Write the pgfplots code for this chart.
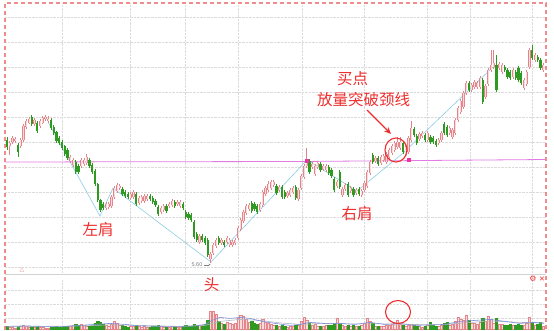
\documentclass[border=0pt]{standalone}
\usepackage{pgfplots}
\pgfplotsset{compat=1.18}
\usepackage{pgfplotstable}
\usetikzlibrary{arrows.meta}
\usepackage{fontspec}
\setmainfont{Liberation Sans}
\newfontfamily\cjk{Noto Sans CJK SC}
\newfontfamily\sym{DejaVu Sans}

\definecolor{upedge}{HTML}{E3858A}
\definecolor{upfill}{HTML}{FADADA}
\definecolor{down}{HTML}{2E9A22}
\definecolor{neck}{HTML}{E27BE2}
\definecolor{trend}{HTML}{8CCDE4}
\definecolor{note}{HTML}{EE2E2E}
\definecolor{frame}{HTML}{F08C8C}
\definecolor{ma1}{HTML}{7F8FD8}
\definecolor{ma2}{HTML}{B0B4C0}

% daily bars: index, open, high, low, close, volume
\pgfplotstableread{
i o h l c v
0 6.83 6.86 6.73 6.76 3
1 6.77 6.82 6.68 6.80 2
2 6.81 6.87 6.79 6.85 2
3 6.82 6.86 6.80 6.84 1
4 6.78 6.80 6.66 6.71 3
5 6.77 6.85 6.75 6.83 3
6 6.83 6.99 6.81 6.97 4
7 6.96 7.04 6.94 7.02 3
8 7.00 7.06 6.99 7.04 2
9 7.06 7.08 6.97 6.99 3
10 6.99 7.05 6.97 7.03 2
11 7.00 7.02 6.90 6.92 3
12 6.97 7.04 6.95 7.02 2
13 7.00 7.07 6.99 7.05 2
14 7.04 7.08 7.02 7.06 1
15 7.02 7.07 7.00 7.04 1
16 7.03 7.05 6.93 6.95 2
17 6.96 6.98 6.88 6.90 2
18 6.91 6.92 6.80 6.82 3
19 6.85 6.87 6.78 6.80 2
20 6.81 6.83 6.73 6.75 2
21 6.77 6.78 6.67 6.69 3
22 6.73 6.75 6.63 6.65 3
23 6.62 6.68 6.60 6.66 3
24 6.58 6.65 6.56 6.63 4
25 6.61 6.63 6.49 6.51 5
26 6.57 6.59 6.49 6.51 4
27 6.57 6.65 6.55 6.63 5
28 6.59 6.65 6.57 6.63 4
29 6.60 6.69 6.58 6.66 3
30 6.63 6.65 6.55 6.57 3
31 6.58 6.60 6.49 6.51 4
32 6.52 6.54 6.37 6.39 6
33 6.39 6.40 6.21 6.23 8
34 6.23 6.24 6.11 6.13 7
35 6.19 6.21 6.13 6.15 5
36 6.15 6.21 6.13 6.19 4
37 6.16 6.21 6.14 6.19 3
38 6.17 6.28 6.15 6.26 5
39 6.26 6.37 6.24 6.35 8
40 6.32 6.40 6.30 6.38 6
41 6.35 6.39 6.33 6.37 4
42 6.34 6.36 6.27 6.29 4
43 6.31 6.33 6.25 6.27 3
44 6.29 6.31 6.24 6.26 2
45 6.25 6.31 6.23 6.29 3
46 6.26 6.33 6.24 6.31 3
47 6.29 6.31 6.17 6.19 4
48 6.20 6.27 6.18 6.25 3
49 6.22 6.28 6.20 6.26 2
50 6.22 6.29 6.20 6.27 3
51 6.24 6.29 6.22 6.27 2
52 6.27 6.29 6.22 6.24 2
53 6.25 6.27 6.19 6.21 3
54 6.22 6.24 6.16 6.18 3
55 6.16 6.18 6.07 6.09 4
56 6.11 6.17 6.09 6.15 3
57 6.13 6.19 6.11 6.17 2
58 6.17 6.19 6.10 6.12 2
59 6.17 6.21 6.15 6.19 2
60 6.18 6.24 6.16 6.22 3
61 6.21 6.23 6.15 6.17 2
62 6.19 6.23 6.17 6.21 2
63 6.17 6.23 6.15 6.21 2
64 6.19 6.21 6.13 6.15 3
65 6.11 6.13 6.04 6.06 4
66 6.09 6.11 6.03 6.05 3
67 6.08 6.10 6.01 6.03 3
68 6.01 6.03 5.84 5.86 5
69 5.89 5.91 5.81 5.83 4
70 5.81 5.89 5.79 5.87 4
71 5.87 5.89 5.81 5.83 3
72 5.85 5.87 5.78 5.80 5
73 5.83 5.85 5.66 5.68 9
74 5.64 5.71 5.60 5.69 18
75 5.70 5.80 5.68 5.78 18
76 5.77 5.85 5.75 5.83 15
77 5.85 5.87 5.78 5.80 8
78 5.80 5.85 5.78 5.83 6
79 5.81 5.83 5.76 5.78 5
80 5.81 5.87 5.79 5.85 7
81 5.78 5.85 5.76 5.83 6
82 5.78 5.83 5.76 5.81 5
83 5.80 5.85 5.78 5.83 6
84 5.85 5.97 5.83 5.95 11
85 5.94 6.05 5.92 6.03 14
86 6.02 6.13 6.00 6.11 13
87 6.10 6.19 6.08 6.17 10
88 6.14 6.20 6.12 6.18 7
89 6.20 6.22 6.10 6.12 8
90 6.19 6.21 6.12 6.14 6
91 6.17 6.19 6.09 6.11 5
92 6.13 6.21 6.11 6.19 6
93 6.18 6.33 6.16 6.31 10
94 6.29 6.37 6.27 6.35 7
95 6.33 6.42 6.31 6.39 6
96 6.35 6.43 6.33 6.41 5
97 6.38 6.43 6.36 6.41 4
98 6.37 6.39 6.28 6.30 4
99 6.33 6.38 6.31 6.36 3
100 6.36 6.38 6.24 6.26 4
101 6.31 6.33 6.24 6.26 3
102 6.27 6.32 6.25 6.30 2
103 6.28 6.35 6.26 6.33 3
104 6.31 6.37 6.29 6.35 3
105 6.36 6.38 6.23 6.25 4
106 6.24 6.35 6.22 6.33 4
107 6.35 6.49 6.33 6.47 8
108 6.46 6.59 6.44 6.57 12
109 6.57 6.75 6.55 6.63 9
110 6.62 6.64 6.49 6.51 6
111 6.56 6.61 6.54 6.59 4
112 6.49 6.59 6.47 6.57 5
113 6.56 6.62 6.54 6.60 3
114 6.59 6.61 6.51 6.53 3
115 6.54 6.59 6.52 6.57 3
116 6.53 6.59 6.51 6.57 4
117 6.56 6.58 6.48 6.50 4
118 6.53 6.55 6.45 6.47 4
119 6.44 6.46 6.31 6.33 6
120 6.37 6.43 6.35 6.41 11
121 6.51 6.53 6.34 6.36 6
122 6.28 6.36 6.26 6.34 4
123 6.34 6.40 6.32 6.38 3
124 6.39 6.41 6.26 6.28 4
125 6.32 6.37 6.30 6.35 3
126 6.34 6.36 6.26 6.28 4
127 6.30 6.35 6.28 6.33 3
128 6.34 6.36 6.27 6.29 3
129 6.28 6.34 6.26 6.32 4
130 6.33 6.42 6.31 6.40 6
131 6.37 6.53 6.35 6.51 11
132 6.50 6.63 6.48 6.61 8
133 6.68 6.70 6.59 6.61 6
134 6.62 6.67 6.60 6.65 3
135 6.65 6.67 6.57 6.59 3
136 6.60 6.68 6.58 6.66 3
137 6.63 6.69 6.61 6.67 3
138 6.61 6.71 6.59 6.69 4
139 6.66 6.75 6.64 6.73 4
140 6.70 6.79 6.68 6.77 5
141 6.73 6.82 6.71 6.80 6
142 6.76 6.86 6.74 6.81 9
143 6.75 6.86 6.73 6.81 5
144 6.80 6.82 6.69 6.71 4
145 6.69 6.78 6.67 6.76 3
146 6.71 6.87 6.69 6.85 4
147 6.83 7.02 6.81 6.95 5
148 6.94 6.96 6.86 6.88 4
149 6.87 6.89 6.78 6.80 3
150 6.84 6.91 6.82 6.89 3
151 6.87 6.92 6.85 6.90 2
152 6.88 6.90 6.81 6.83 3
153 6.83 6.92 6.81 6.90 4
154 6.86 6.88 6.79 6.81 7
155 6.85 6.87 6.79 6.81 4
156 6.82 6.84 6.76 6.78 3
157 6.80 6.85 6.78 6.83 3
158 6.83 6.92 6.81 6.90 4
159 6.99 7.01 6.88 6.90 6
160 6.96 6.98 6.86 6.88 7
161 6.90 6.97 6.88 6.95 4
162 6.86 6.95 6.84 6.93 5
163 6.90 7.05 6.88 7.03 8
164 7.03 7.17 7.01 7.15 12
165 7.11 7.24 7.09 7.22 10
166 7.16 7.32 7.14 7.30 9
167 7.30 7.42 7.28 7.40 14
168 7.40 7.42 7.31 7.33 9
169 7.33 7.40 7.31 7.38 6
170 7.36 7.43 7.34 7.41 6
171 7.36 7.42 7.34 7.40 5
172 7.36 7.47 7.34 7.45 7
173 7.43 7.45 7.19 7.21 11
174 7.26 7.39 7.24 7.37 8
175 7.39 7.55 7.37 7.53 13
176 7.53 7.73 7.51 7.58 10
177 7.56 7.73 7.54 7.60 6
178 7.58 7.68 7.31 7.33 11
179 7.55 7.61 7.53 7.59 5
180 7.51 7.60 7.49 7.58 5
181 7.56 7.58 7.51 7.53 4
182 7.53 7.55 7.44 7.46 4
183 7.51 7.53 7.43 7.45 5
184 7.46 7.55 7.44 7.53 4
185 7.51 7.53 7.43 7.45 4
186 7.55 7.57 7.41 7.43 5
187 7.50 7.52 7.38 7.40 4
188 7.35 7.45 7.33 7.43 4
189 7.39 7.53 7.37 7.51 6
190 7.56 7.75 7.54 7.73 12
191 7.73 7.78 7.63 7.65 7
192 7.63 7.70 7.61 7.68 4
193 7.66 7.68 7.61 7.63 5
194 7.63 7.65 7.53 7.55 7
195 7.53 7.60 7.51 7.58 3
}\kline

\pgfplotsset{
  rising/.style={restrict expr to domain={\thisrow{c}-\thisrow{o}}{0:10}},
  falling/.style={restrict expr to domain={\thisrow{c}-\thisrow{o}}{-10:-0.001}},
  panel/.style={scale only axis, anchor=south west, width=541pt,
      xmin=5, xmax=546, axis line style={draw=none}, tick style={draw=none},
      xticklabel=\empty, yticklabel=\empty,
      xtick={62,130,185,238,302,364,427,470,532},
      grid=major, grid style={gray!28, densely dotted, line width=0.5pt}},
  candle/.style 2 args={draw=none, mark=none, forget plot,
      error bars/.cd, y dir=both, y explicit, error mark=none,
      error bar style={draw=#1, line width=#2}},
}

\begin{document}
\begin{tikzpicture}[x=1pt, y=1pt]
\path[use as bounding box, fill=white] (0,0) rectangle (554,330);

% price panel
\begin{axis}[panel, at={(5,56)}, height=271pt, ymin=5.49, ymax=8.20,
    ytick={5.56,5.81,6.06,6.31,6.56,6.81,7.06,7.31,7.56,7.81,8.06}]
  % neckline
  \addplot[neck, line width=0.8pt] coordinates {(5,6.61) (300,6.615) (546,6.635)};
  % pattern outline
  \addplot[trend, line width=0.6pt] coordinates {
    (48,7.01) (100,6.07) (113,6.35) (211,5.61) (307,6.63)
    (357,6.32) (402,6.69) (493,7.56)};
  % shadows
  \addplot[rising, candle={upedge}{0.6pt}]
    table[x expr=7+2.75*\thisrow{i}, y expr=(\thisrow{h}+\thisrow{l})/2,
          y error expr=(\thisrow{h}-\thisrow{l})/2]{\kline};
  \addplot[falling, candle={down}{0.6pt}]
    table[x expr=7+2.75*\thisrow{i}, y expr=(\thisrow{h}+\thisrow{l})/2,
          y error expr=(\thisrow{h}-\thisrow{l})/2]{\kline};
  % bodies
  \addplot[rising, candle={upedge}{2.3pt}]
    table[x expr=7+2.75*\thisrow{i}, y expr=(\thisrow{o}+\thisrow{c})/2,
          y error expr=(\thisrow{c}-\thisrow{o})/2]{\kline};
  \addplot[rising, candle={upfill}{0.9pt}]
    table[x expr=7+2.75*\thisrow{i}, y expr=(\thisrow{o}+\thisrow{c})/2,
          y error expr=(\thisrow{c}-\thisrow{o})/2-0.004]{\kline};
  \addplot[falling, candle={down}{2.3pt}]
    table[x expr=7+2.75*\thisrow{i}, y expr=(\thisrow{o}+\thisrow{c})/2,
          y error expr=(\thisrow{o}-\thisrow{c})/2]{\kline};
  % breakout points on the neckline
  \addplot[only marks, mark=square*, mark size=1.4pt, color=magenta!80]
    coordinates {(307,6.625) (409,6.63)};
\end{axis}

% volume panel
\begin{axis}[panel, at={(5,6)}, height=50pt, ymin=0, ymax=50,
    ytick={11,25,39}]
  \addplot[rising, ybar, bar width=2.2pt, bar shift=0pt, fill=upfill, draw=upedge,
      line width=0.4pt]
    table[x expr=7+2.75*\thisrow{i}, y=v]{\kline};
  \addplot[falling, ybar, bar width=2.2pt, bar shift=0pt, fill=down, draw=down,
      line width=0.4pt]
    table[x expr=7+2.75*\thisrow{i}, y=v]{\kline};
  \addplot[ma2, line width=0.6pt] coordinates {
    (7,2.5) (40,3) (80,3.5) (110,4.5) (140,4) (180,3) (205,4) (220,8)
    (240,10) (260,9) (280,6.5) (300,5) (320,6) (350,5.5) (380,5.5)
    (410,5) (440,4.5) (465,6.5) (490,8.5) (520,7) (544,6.5)};
  \addplot[ma1, line width=0.6pt] coordinates {
    (7,3) (25,3.5) (45,3) (65,3) (80,4) (95,5) (110,6) (125,5) (140,3.5)
    (160,3) (180,3) (195,3.5) (205,5) (212,9) (220,12) (230,11) (240,12)
    (250,11) (262,8) (275,6) (290,4) (300,5) (310,7) (325,6) (340,6)
    (355,5) (370,7) (385,5) (400,6) (415,4) (430,4.5) (445,5) (460,8)
    (475,9) (490,10) (505,8) (520,6) (535,7) (544,6)};
\end{axis}

% panel separator and selection frame
\draw[gray!35, line width=0.6pt] (5,56) -- (546,56);
\draw[frame, line width=1.1pt, dash pattern=on 4pt off 3pt]
  (5,0) -- (5,327) -- (546,327) -- (546,0);

% annotations
\begin{scope}[every node/.style={text=note, inner sep=0pt,
    font=\cjk\fontsize{15.5}{18}\selectfont}]
  \node at (98,100) {左肩};
  \node at (211.5,45.5) {头};
  \node at (357,116) {右肩};
  \node at (352.5,251) {买点};
  \node at (363.5,230) {放量突破颈线};
\end{scope}
\draw[note, line width=1.3pt, -{Stealth[length=7pt, width=6pt]}] (367,220) -- (391,196);
\draw[note, line width=1.1pt] (396,180) ellipse [x radius=11, y radius=12];
\draw[note, line width=1.1pt] (398,18) ellipse [x radius=12.5, y radius=11.5];

\node[gray, font=\fontsize{5.5}{6}\selectfont, inner sep=0pt] at (197,65) {5.60};
\draw[gray, line width=0.4pt, -{Stealth[length=2pt, width=2pt]}] (203.5,65.3) -- (210.5,65.3);
\node[upedge, font=\sym\fontsize{6}{7}\selectfont, inner sep=0pt] at (22,60) {△};
\node[note, font=\sym\fontsize{8}{9}\selectfont, inner sep=0pt] at (533,51) {⚙};
\node[note, font=\sym\fontsize{7}{8}\selectfont, inner sep=0pt] at (542,51) {✕};
\end{tikzpicture}
\end{document}
